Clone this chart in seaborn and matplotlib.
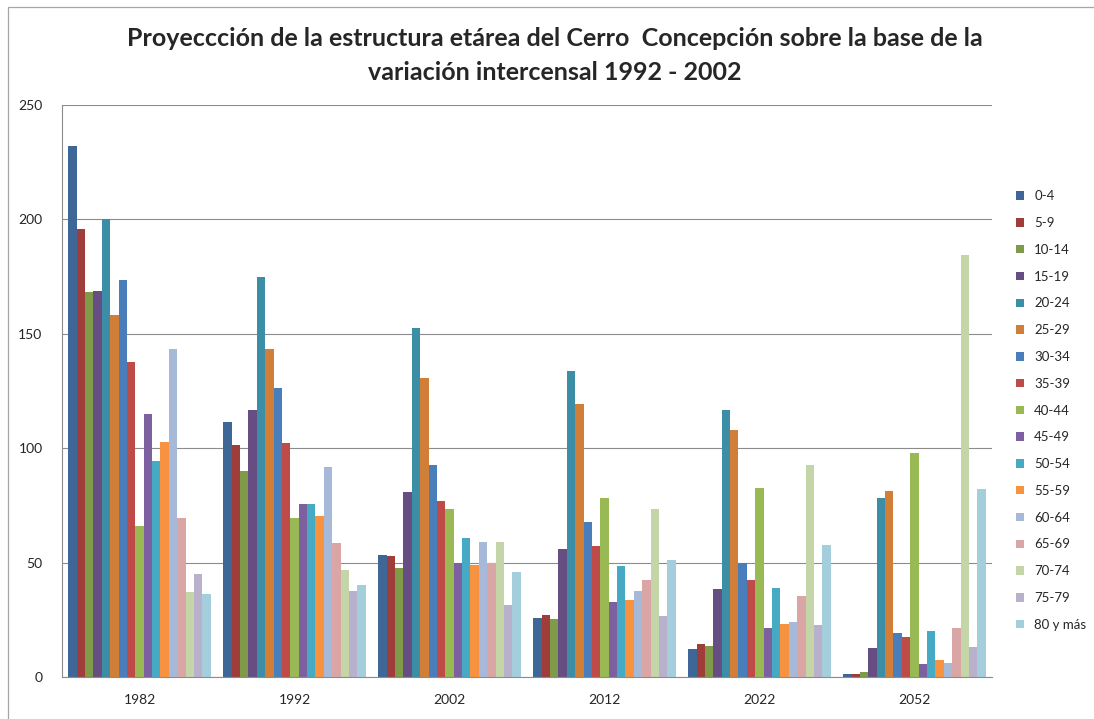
import numpy as np
import pandas as pd
import seaborn as sns
import matplotlib.pyplot as plt

# years (groups) and age bands (series)
years = ['1982', '1992', '2002', '2012', '2022', '2052']
ages = ['0-4', '5-9', '10-14', '15-19', '20-24', '25-29', '30-34', '35-39', '40-44',
        '45-49', '50-54', '55-59', '60-64', '65-69', '70-74', '75-79', '80 y más']

v1982 = [232, 196, 168.3, 168.8, 200, 158.2, 173.3, 137.6, 66, 115.1, 94.3, 102.5, 143.3, 69.5, 37, 44.9, 36.3]
v1992 = [111.5, 101.6, 89.9, 116.7, 174.8, 143.5, 126.4, 102.4, 69.7, 75.6, 75.6, 70.4, 91.9, 58.7, 46.9, 37.7, 40.4]
v2002 = [53.5, 52.8, 47.7, 80.8, 152.5, 130.5, 92.6, 76.8, 73.6, 49.9, 60.6, 48.8, 58.8, 50, 58.8, 31.6, 45.8]
v2012 = [25.8, 27.3, 25.2, 56, 133.7, 119.1, 67.9, 57.3, 78.1, 32.7, 48.5, 33.5, 37.5, 42.3, 73.6, 26.8, 51.3]
v2022 = [12.4, 14.3, 13.4, 38.6, 116.6, 107.9, 49.9, 42.6, 82.4, 21.3, 39.1, 23.3, 24.1, 35.6, 92.6, 22.6, 57.6]
v2052 = [1.1, 1.5, 2, 12.7, 78.2, 81.5, 19.3, 17.6, 97.8, 5.7, 20.2, 7.4, 6.2, 21.6, 184.4, 13.3, 82.1]

colors = ['#3E6797', '#9E3D3A', '#7F9A48', '#664E83', '#3B8EA5', '#D07E38', '#4A7EBB',
          '#BE4B48', '#98B954', '#7D60A0', '#46AAC5', '#F69240', '#A7B9D9', '#D9A6A5',
          '#C4D6A8', '#B9B0CC', '#A5CEDC']

rows = []
for yr, vals in zip(years, [v1982, v1992, v2002, v2012, v2022, v2052]):
    for a, v in zip(ages, vals):
        rows.append({'year': yr, 'age': a, 'value': v})
df = pd.DataFrame(rows)

sns.set_style('white')
plt.rcParams['font.family'] = ['Lato', 'DejaVu Sans']

fig = plt.figure(figsize=(10.94, 7.19), dpi=100)
ax = fig.add_axes([0.0567, 0.0584, 0.85, 0.7956])

sns.barplot(data=df, x='year', y='value', hue='age', hue_order=ages, order=years,
            palette=colors, width=0.92, gap=0, saturation=1, ax=ax, errorbar=None,
            linewidth=0, edgecolor='none')

ax.set_ylim(0, 250)
ax.set_xlim(-0.5, len(years) - 0.5)
ax.set_yticks([0, 50, 100, 150, 200, 250])
ax.yaxis.grid(True, color='#8c8c8c', linewidth=0.8)
ax.set_axisbelow(True)
ax.set_xlabel('')
ax.set_ylabel('')
for s in ['top', 'right']:
    ax.spines[s].set_visible(False)
ax.spines['left'].set_color('#8c8c8c')
ax.spines['bottom'].set_color('#8c8c8c')
ax.tick_params(axis='y', labelsize=10, pad=14, length=0)
ax.tick_params(axis='x', labelsize=10, pad=12, length=0)

leg = ax.legend(loc='upper left', bbox_to_anchor=(1.02, 0.86), frameon=False,
                fontsize=9.5, labelspacing=1.12, handlelength=0.6, handleheight=0.6,
                handletextpad=0.8, borderaxespad=0)

fig.suptitle('Proyeccción de la estructura etárea del Cerro  Concepción sobre la base de la\n'
             'variación intercensal 1992 - 2002',
             x=0.507, y=0.962, fontsize=18, fontweight='bold', linespacing=1.55)

# outer chart frame (partly visible in the original)
fig.add_artist(plt.Line2D([0.0075, 0.0075], [0, 0.99], color='#a6a6a6', linewidth=0.9))
fig.add_artist(plt.Line2D([0.0075, 1.0], [0.99, 0.99], color='#a6a6a6', linewidth=0.9))

fig.savefig('out.png', dpi=100)
